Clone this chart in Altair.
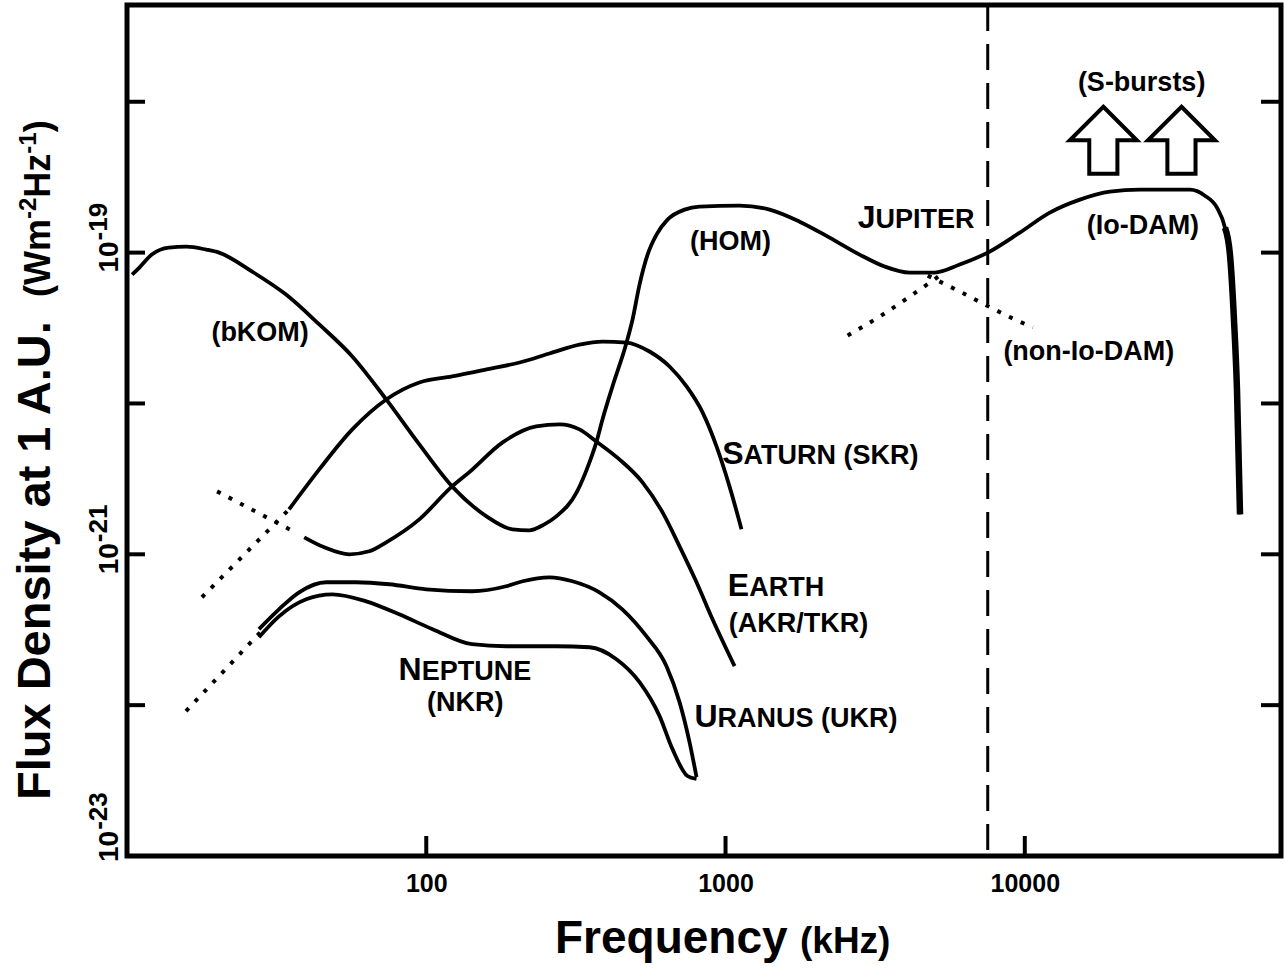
import altair as alt
import pandas as pd

FONT = "Liberation Sans, Arial, Helvetica, sans-serif"
W, H = 1154, 851

# ---------------- data ----------------
# frequency in kHz, flux density in W m^-2 Hz^-1
jupiter_freq = [10.4, 11.0, 12.1, 13.8, 15.8, 18.4, 20.3, 26.2, 34.0, 43.9, 56.6, 73.5, 94.8,
                122, 159, 194, 221, 248, 272, 318, 351, 370, 388, 419, 467, 489, 516, 549, 588,
                640, 730, 819, 1114, 1404, 1768, 2227, 2806, 3402, 4125, 5000, 6062, 7519, 9623,
                12120, 15280, 19250, 24240, 35630, 39990, 43860, 46660, 48480, 50000, 51170, 52380]
jupiter_flux = [7.15e-20, 7.96e-20, 9.70e-20, 1.079e-19, 1.095e-19, 1.047e-19, 1.0e-19, 7.48e-20,
                5.27e-20, 3.34e-20, 2.05e-20, 1.063e-20, 5.35e-21, 2.82e-21, 1.785e-21, 1.464e-21,
                1.442e-21, 1.58e-21, 1.785e-21, 2.573e-21, 4.07e-21, 5.52e-21, 7.83e-21, 1.296e-20,
                2.535e-20, 3.60e-20, 6.14e-20, 9.70e-20, 1.316e-19, 1.654e-19, 1.927e-19, 2.017e-19,
                2.048e-19, 1.927e-19, 1.604e-19, 1.257e-19, 9.70e-20, 8.08e-20, 7.37e-20, 7.37e-20,
                8.33e-20, 1.0e-19, 1.357e-19, 1.840e-19, 2.244e-19, 2.535e-19, 2.614e-19, 2.614e-19,
                2.385e-19, 1.986e-19, 1.464e-19, 9.70e-20, 3.60e-20, 1.238e-20, 1.84e-21]
jupiter_cutoff_start = 50  # index where the steep high-frequency cutoff begins

nonio_up_freq = [2559, 3274, 4125, 5196]
nonio_up_flux = [2.82e-20, 3.77e-20, 5.11e-20, 7.04e-20]
nonio_down_freq = [4739, 6062, 7463, 9120, 10640]
nonio_down_flux = [7.04e-20, 5.52e-20, 4.46e-20, 3.656e-20, 3.19e-20]

saturn_freq = [34.8, 43.9, 56.6, 73.5, 94.8, 122, 159, 205, 258, 325, 388, 467, 557, 650, 741,
               838, 933, 1031, 1131]
saturn_flux = [1.986e-21, 3.656e-21, 6.73e-21, 1.063e-20, 1.378e-20, 1.510e-20, 1.680e-20,
               1.868e-20, 2.144e-20, 2.458e-20, 2.573e-20, 2.535e-20, 2.210e-20, 1.758e-20,
               1.296e-20, 8.72e-21, 5.19e-21, 2.82e-21, 1.464e-21]
saturn_ext_freq = [17.8, 34.8]
saturn_ext_flux = [5.19e-22, 1.986e-21]

earth_freq = [39.1, 45.6, 55.3, 64.5, 73.5, 94.8, 122, 139, 180, 233, 279, 325, 370, 442, 528,
              616, 702, 800, 905, 1072]
earth_flux = [1.296e-21, 1.113e-21, 1.0e-21, 1.047e-21, 1.201e-21, 1.705e-21, 2.82e-21, 3.49e-21,
              5.52e-21, 7.04e-21, 7.26e-21, 6.73e-21, 5.60e-21, 4.26e-21, 3.00e-21, 1.897e-21,
              1.130e-21, 6.53e-22, 3.71e-22, 1.813e-22]
earth_ext_freq = [20.0, 37.0]
earth_ext_flux = [2.614e-21, 1.378e-21]

uranus_freq = [27.6, 32.2, 37.6, 46.3, 58.3, 75.2, 100, 142, 185, 210, 258, 308, 379, 452, 544,
               635, 702, 758, 800]
uranus_flux = [3.19e-22, 4.32e-22, 5.60e-22, 6.53e-22, 6.53e-22, 6.33e-22, 5.86e-22, 5.69e-22,
               6.14e-22, 6.63e-22, 7.04e-22, 6.63e-22, 5.60e-22, 4.32e-22, 2.864e-22, 1.813e-22,
               1.047e-22, 5.69e-23, 3.34e-23]

neptune_freq = [27.6, 32.2, 39.7, 48.5, 63.0, 81.2, 105, 142, 185, 272, 351, 432, 516, 602, 665,
                746, 800]
neptune_flux = [2.82e-22, 3.88e-22, 5.04e-22, 5.43e-22, 4.88e-22, 4.00e-22, 3.19e-22, 2.535e-22,
                2.458e-22, 2.458e-22, 2.42e-22, 2.017e-22, 1.420e-22, 8.46e-23, 5.11e-23,
                3.39e-23, 3.24e-23]

icegiant_ext_freq = [15.75, 28.1]
icegiant_ext_flux = [9.13e-23, 3.09e-22]

ionosphere_cutoff_freq = [7519]

sburst_freq = [18300, 33380]
sburst_flux = [5.56e-19, 5.56e-19]

x_tick_values = [100, 1000, 10000]
y_tick_values = [1e-22, 1e-21, 1e-20, 1e-19, 1e-18]
y_label_values = [1e-23, 1e-21, 1e-19]
y_label_bases = ["10", "10", "10"]
y_label_exponents = ["-23", "-21", "-19"]

# annotation texts and their anchors (freq, flux)
center_labels = ["(bKOM)", "(HOM)", "(Io-DAM)", "(S-bursts)", "(non-Io-DAM)", "(NKR)"]
center_freq = [27.85, 1039, 24810, 24570, 16370, 135]
center_flux = [2.59e-20, 1.047e-19, 1.336e-19, 1.17e-18, 1.956e-20, 9.17e-23]

left_labels = ["(AKR/TKR)"]
left_freq = [1026]
left_flux = [3.04e-22]

planet_initials = ["J", "S", "E", "U", "N"]
planet_rest = ["UPITER", "ATURN (SKR)", "ARTH", "RANUS (UKR)", "EPTUNE"]
planet_freq = [2764, 975, 1018, 787.5, 80.8]
planet_flux = [1.464e-19, 3.945e-21, 5.30e-22, 7.12e-23, 1.47e-22]

# ---------------- scales / axes ----------------
xscale = alt.Scale(type="log", domain=[10, 71800], nice=False)
yscale = alt.Scale(type="log", domain=[1e-23, 4.38e-18], nice=False)

x_axis = alt.Axis(values=x_tick_values, format="d", title=None, ticks=False, tickSize=0,
                  domain=False, grid=False, labelFont=FONT, labelFontSize=25,
                  labelFontWeight="bold", labelColor="black", labelPadding=15)


def X():
    return alt.X("freq:Q", scale=xscale, axis=x_axis)


def Y():
    return alt.Y("flux:Q", scale=yscale, axis=None)


def curve(freq, flux):
    return pd.DataFrame({"freq": freq, "flux": flux, "order": list(range(len(freq)))})


def line(df, width=3.8, dash=None):
    kw = dict(color="black", strokeWidth=width, interpolate="monotone", clip=True)
    if dash is not None:
        kw["strokeDash"] = dash
    return alt.Chart(df).mark_line(**kw).encode(x=X(), y=Y(), order="order:Q")


DOT = [4, 9]
layers = []

# solid curves
jup_df = curve(jupiter_freq, jupiter_flux)
layers.append(line(jup_df))
layers.append(
    alt.Chart(jup_df).transform_filter(f"datum.order >= {jupiter_cutoff_start}")
    .mark_line(color="black", strokeWidth=6.5, interpolate="monotone")
    .encode(x=X(), y=Y(), order="order:Q")
)
layers.append(line(curve(saturn_freq, saturn_flux)))
layers.append(line(curve(earth_freq, earth_flux)))
layers.append(line(curve(uranus_freq, uranus_flux)))
layers.append(line(curve(neptune_freq, neptune_flux)))

# dotted extensions
for f, s in [(nonio_up_freq, nonio_up_flux), (nonio_down_freq, nonio_down_flux),
             (saturn_ext_freq, saturn_ext_flux), (earth_ext_freq, earth_ext_flux),
             (icegiant_ext_freq, icegiant_ext_flux)]:
    layers.append(line(curve(f, s), width=4, dash=DOT))

# ionospheric cutoff (dashed vertical)
layers.append(
    alt.Chart(pd.DataFrame({"freq": ionosphere_cutoff_freq}))
    .mark_rule(color="black", strokeWidth=3, strokeDash=[26, 13])
    .encode(x=X())
)

# S-burst arrows
ARROW = "M0,-1L1,0L0.42,0L0.42,1L-0.42,1L-0.42,0L-1,0Z"
layers.append(
    alt.Chart(curve(sburst_freq, sburst_flux))
    .mark_point(shape=ARROW, size=4489, filled=True, fill="white", stroke="black",
                strokeWidth=4, opacity=1)
    .encode(x=X(), y=Y())
)

# frame ticks
layers.append(
    alt.Chart(pd.DataFrame({"freq": x_tick_values}))
    .mark_rule(color="black", strokeWidth=4)
    .encode(x=X(), y=alt.value(H), y2=alt.value(H - 20))
)
ytk = pd.DataFrame({"flux": y_tick_values})
layers.append(
    alt.Chart(ytk).mark_rule(color="black", strokeWidth=4)
    .encode(y=Y(), x=alt.value(0), x2=alt.value(18))
)
layers.append(
    alt.Chart(ytk).mark_rule(color="black", strokeWidth=4)
    .encode(y=Y(), x=alt.value(W - 20), x2=alt.value(W))
)

# y tick labels (10 with a raised exponent, rotated)
ylab_df = pd.DataFrame({"flux": y_label_values, "base": y_label_bases, "exp": y_label_exponents})
BASE_SIZE, EXP_SIZE = 28, 26
base_len = 2 * 0.556 * BASE_SIZE
for cond, start in [("datum.flux < 1e-22", -6), ("datum.flux >= 1e-22", -20)]:
    common = dict(font=FONT, fontWeight="bold", color="black", angle=270, align="left",
                  baseline="alphabetic")
    layers.append(
        alt.Chart(ylab_df).transform_filter(cond)
        .mark_text(fontSize=BASE_SIZE, dx=start, **common)
        .encode(x=alt.value(-9), y=Y(), text="base:N")
    )
    layers.append(
        alt.Chart(ylab_df).transform_filter(cond)
        .mark_text(fontSize=EXP_SIZE, dx=start + base_len + 1, dy=-11, **common)
        .encode(x=alt.value(-9), y=Y(), text="exp:N")
    )


# annotation labels
def lab_df(texts, f, s):
    return pd.DataFrame({"label": texts, "freq": f, "flux": s})


def text_layer(df, size, align, dx=0):
    return (alt.Chart(df)
            .mark_text(font=FONT, fontSize=size, fontWeight="bold", color="black",
                       align=align, baseline="alphabetic", dx=dx)
            .encode(x=X(), y=Y(), text="label:N"))


layers.append(text_layer(lab_df(center_labels, center_freq, center_flux), 27, "center"))
layers.append(text_layer(lab_df(left_labels, left_freq, left_flux), 27, "left"))
layers.append(text_layer(lab_df(planet_initials, planet_freq, planet_flux), 32, "left"))
initial_widths = {"J": 17.8, "S": 21.3, "E": 21.3, "U": 23.1, "N": 23.1}
for ini, rest, f, s in zip(planet_initials, planet_rest, planet_freq, planet_flux):
    layers.append(text_layer(lab_df([rest], [f], [s]), 27, "left", dx=initial_widths[ini]))

# axis titles
one = pd.DataFrame({"k": [0]})


def title_text(text, x, y, size, angle=0, dx=0, dy=0):
    kw = dict(font=FONT, fontSize=size, fontWeight="bold", color="black", align="left",
              baseline="alphabetic", text=text)
    if angle:
        kw["angle"] = angle
    if dx:
        kw["dx"] = dx
    if dy:
        kw["dy"] = dy
    return alt.Chart(one).mark_text(**kw).encode(x=alt.value(x), y=alt.value(y))


layers.append(title_text("Frequency", 428, 948, 46))
layers.append(title_text("(kHz)", 673, 948, 37))
layers.append(title_text("Flux Density at 1 A.U.", -77, 795, 47, angle=270))
# units with raised exponents: (Wm^-2 Hz^-1)
U_BIG, U_SUP = 36, 24
unit_parts = [("(Wm", U_BIG, 0, 0), ("-2", U_SUP, 78.0, -14), ("Hz", U_BIG, 99.3, 0),
              ("-1", U_SUP, 143.3, -14), (")", U_BIG, 164.7, 0)]
for t, sz, dx, dy in unit_parts:
    layers.append(title_text(t, -77, 292, sz, angle=270, dx=dx, dy=dy))

chart = (
    alt.layer(*layers)
    .properties(width=W, height=H, background="white",
                padding={"left": 127, "top": 5, "right": 3, "bottom": 112},
                autosize=alt.AutoSizeParams(type="none"))
    .configure_view(stroke="black", strokeWidth=5)
    .configure_axis(grid=False)
)

chart.save("out.html", embed_options={"renderer": "svg", "actions": False})
